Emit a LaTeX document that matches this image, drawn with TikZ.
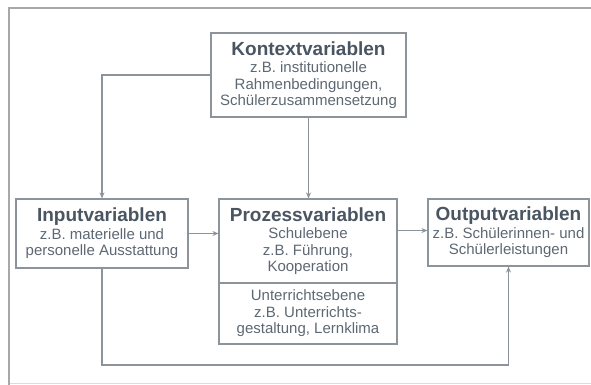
\documentclass[tikz,border=0pt]{standalone}
\usepackage{fontspec}
\setmainfont{Liberation Sans}
\usetikzlibrary{arrows.meta}
\definecolor{boxgray}{HTML}{8C939B}
\definecolor{txtgray}{HTML}{5E6873}
\definecolor{ttlgray}{HTML}{4A5562}
\definecolor{framegray}{HTML}{A8A8A8}
\newcommand{\boxtitle}[1]{{\color{ttlgray}\fontsize{19}{20}\selectfont\bfseries #1}}
\begin{document}
\begin{tikzpicture}[x=1pt,y=-1pt,
  box/.style={draw=boxgray,line width=1.2pt,rectangle,inner sep=0pt,align=center,
    text=txtgray,font=\fontsize{15}{16.5}\selectfont},
  conn/.style={draw=boxgray,line width=1.2pt,-{Stealth[length=6pt,width=5pt]}}]
\useasboundingbox (0,0) rectangle (591,385);
\fill[white] (0,0) rectangle (591,385);
\draw[framegray,line width=2pt] (9,385) -- (9,8) -- (591,8);
\draw[framegray!40,line width=1pt] (10,383.5) -- (591,383.5);

\node[box,minimum width=195pt,minimum height=84pt] (kontext) at (308.5,75)
  {\boxtitle{Kontextvariablen}\\[1pt] z.B. institutionelle\\ Rahmenbedingungen,\\ Schülerzusammensetzung};
\node[box,minimum width=172pt,minimum height=69pt] (input) at (102,233.5)
  {\boxtitle{Inputvariablen}\\[1pt] z.B. materielle und\\ personelle Ausstattung};
\node[box,minimum width=178pt,minimum height=84pt] (prozA) at (308,241)
  {\boxtitle{Prozessvariablen}\\[1pt] Schulebene\\ z.B. Führung,\\ Kooperation};
\node[box,minimum width=178pt,minimum height=61pt] (prozB) at (308,313.5)
  {Unterrichtsebene\\ z.B. Unterrichts-\\ gestaltung, Lernklima};
\node[box,minimum width=161pt,minimum height=67pt] (output) at (508.5,232.5)
  {\boxtitle{Outputvariablen}\\[1pt] z.B. Schülerinnen- und\\ Schülerleistungen};

\coordinate (bl) at (103,365);
\draw[conn] (kontext.west) -| (input.north);
\draw[conn] (kontext.south) -- (kontext.south |- prozA.north);
\draw[conn] (input.east) -- (input.east -| prozA.west);
\draw[conn] ([yshift=2pt]output.west -| prozA.east) -- ([yshift=2pt]output.west);
\draw[conn] (input.south) -- (input.south |- bl) -| (output.south);
\end{tikzpicture}
\end{document}
